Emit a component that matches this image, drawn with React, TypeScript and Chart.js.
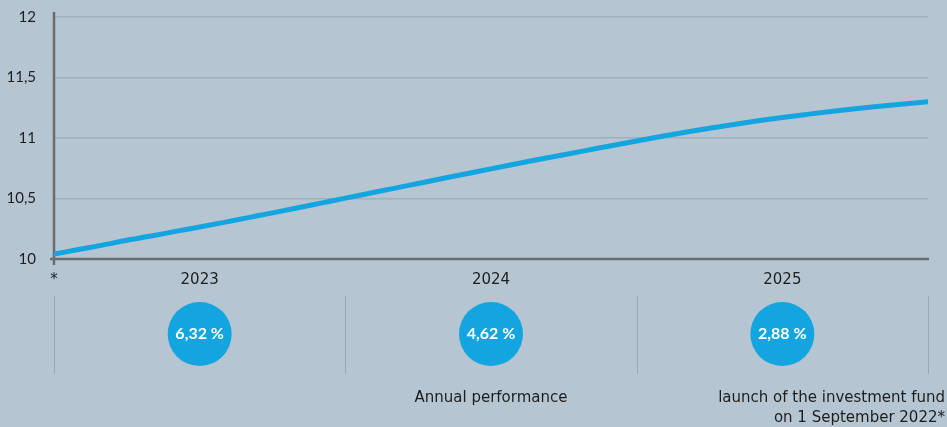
import React, { useEffect, useRef } from "react";
import { Chart, registerables } from "chart.js";

Chart.register(...registerables);

const months = [0, 1, 2, 3, 4, 5, 6, 7, 8, 9, 10, 11, 12, 13, 14, 15, 16, 17, 18, 19, 20, 21, 22, 23, 24, 25, 26, 27, 28, 29, 30, 31, 32, 33, 34, 35, 36];
const navValues = [10.04, 10.078, 10.115, 10.155, 10.19, 10.228, 10.265, 10.303, 10.342, 10.381, 10.421, 10.462, 10.503, 10.543, 10.584, 10.624, 10.665, 10.705, 10.745, 10.785, 10.824, 10.862, 10.9, 10.938, 10.975, 11.012, 11.047, 11.08, 11.112, 11.142, 11.17, 11.195, 11.219, 11.241, 11.262, 11.281, 11.3];
const yearBounds = [0, 12, 24, 36];
const yearLabels = ["2023", "2024", "2025"];
const yearReturns = ["6,32 %", "4,62 %", "2,88 %"];
const yMin = 10;
const yMax = 12;
const yStep = 0.5;
const legendLeft = "Annual performance";
const legendRight = ["launch of the investment fund", "on 1 September 2022*"];

const BG = "#b5c5d1";
const BLUE = "#13a5df";
const AXIS = "#6a6d70";
const GRID = "#9fb0bd";
const SEP = "#97a8b6";
const TEXT = "#1e1e1e";
const FONT = "Lato, 'Noto Sans', sans-serif";
const WIDE = "'DejaVu Sans', sans-serif";

const decor = {
  id: "decor",
  beforeDatasetsDraw(chart: any) {
    const { ctx, chartArea } = chart;
    ctx.save();
    ctx.strokeStyle = AXIS;
    ctx.lineWidth = 2.5;
    ctx.beginPath();
    ctx.moveTo(chartArea.left - 4, chartArea.bottom);
    ctx.lineTo(chartArea.right + 1, chartArea.bottom);
    ctx.stroke();
    ctx.beginPath();
    ctx.moveTo(chartArea.left, chartArea.top - 5);
    ctx.lineTo(chartArea.left, chartArea.bottom + 6);
    ctx.stroke();
    ctx.restore();
  },
  afterDraw(chart: any) {
    const { ctx, chartArea, width } = chart;
    const xs = chart.scales.x;
    ctx.save();
    ctx.fillStyle = TEXT;
    ctx.font = `15px ${WIDE}`;
    ctx.textAlign = "center";
    ctx.textBaseline = "middle";
    ctx.fillText("*", chartArea.left, chartArea.bottom + 21);
    ctx.strokeStyle = SEP;
    ctx.lineWidth = 1;
    yearBounds.forEach((m) => {
      const x = Math.round(xs.getPixelForValue(m)) + 0.5;
      ctx.beginPath();
      ctx.moveTo(x, chartArea.bottom + 37);
      ctx.lineTo(x, chartArea.bottom + 115);
      ctx.stroke();
    });
    yearLabels.forEach((lab, i) => {
      const cx = xs.getPixelForValue((yearBounds[i] + yearBounds[i + 1]) / 2);
      ctx.fillStyle = TEXT;
      ctx.font = `15px ${WIDE}`;
      ctx.textAlign = "center";
      ctx.textBaseline = "middle";
      ctx.fillText(lab, cx, chartArea.bottom + 21);
      ctx.fillStyle = BLUE;
      ctx.beginPath();
      ctx.arc(cx, chartArea.bottom + 75, 32, 0, Math.PI * 2);
      ctx.fill();
      ctx.fillStyle = "#ffffff";
      ctx.font = `bold 16px ${FONT}`;
      ctx.fillText(yearReturns[i], cx, chartArea.bottom + 75);
    });
    ctx.fillStyle = TEXT;
    ctx.font = `15px ${WIDE}`;
    ctx.textBaseline = "middle";
    ctx.textAlign = "center";
    const mid = xs.getPixelForValue((yearBounds[1] + yearBounds[2]) / 2);
    ctx.fillText(legendLeft, mid, chartArea.bottom + 139);
    ctx.textAlign = "right";
    ctx.fillText(legendRight[0], width - 2, chartArea.bottom + 139);
    ctx.fillText(legendRight[1], width - 2, chartArea.bottom + 159);
    ctx.restore();
  },
};

export default function App() {
  const ref = useRef<HTMLCanvasElement>(null);
  useEffect(() => {
    if (!ref.current) return;
    const chart = new Chart(ref.current, {
      type: "line",
      data: {
        datasets: [
          {
            data: months.map((m, i) => ({ x: m, y: navValues[i] })),
            borderColor: BLUE,
            borderWidth: 5,
            borderCapStyle: "round",
            borderJoinStyle: "round",
            pointRadius: 0,
            cubicInterpolationMode: "monotone",
            fill: false,
          },
        ],
      },
      options: {
        animation: false,
        responsive: false,
        layout: { padding: { left: 0, right: 19, top: 17, bottom: 168 } },
        plugins: { legend: { display: false }, tooltip: { enabled: false } },
        scales: {
          x: {
            type: "linear",
            min: yearBounds[0],
            max: yearBounds[3],
            display: false,
          },
          y: {
            min: yMin,
            max: yMax,
            afterFit: (s: any) => {
              s.width = 54;
            },
            border: { display: false },
            grid: {
              color: (c: any) => (c.tick && c.tick.value === yMin ? "rgba(0,0,0,0)" : GRID),
              lineWidth: 1.5,
              drawTicks: true,
              tickLength: 18,
              tickColor: "rgba(0,0,0,0)",
            },
            ticks: {
              stepSize: yStep,
              padding: 0,
              color: TEXT,
              font: { size: 15, family: FONT },
              callback: (v: any) => String(v).replace(".", ","),
            },
          },
        },
      },
      plugins: [decor],
    });
    return () => chart.destroy();
  }, []);
  return (
    <div style={{ position: "fixed", left: 0, top: 0, width: 947, height: 427, background: BG }}>
      <canvas ref={ref} width={947} height={427} />
    </div>
  );
}
